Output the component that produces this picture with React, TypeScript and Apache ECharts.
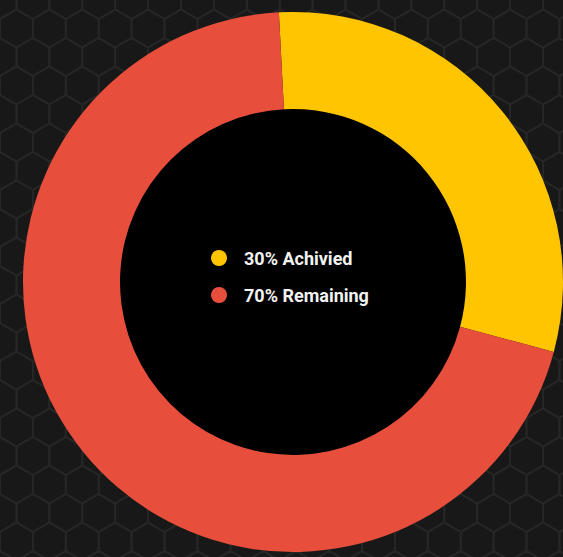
import React, { useEffect, useRef } from "react";
import * as echarts from "echarts";

const categories = ["30% Achivied", "70% Remaining"];
const values = [30, 70];
const colors = ["#FFC500", "#E84E3C"];

function hexGrid(w: number, h: number, r: number) {
  const els: any[] = [];
  const hw = Math.sqrt(3) * r;
  const vh = 1.5 * r;
  for (let row = -1; row * vh < h + r; row++) {
    for (let col = -1; col * hw < w + hw; col++) {
      const cx = col * hw + (row % 2 ? hw / 2 : 0);
      const cy = row * vh;
      const pts: number[][] = [];
      for (let k = 0; k < 6; k++) {
        const a = (Math.PI / 3) * k + Math.PI / 6;
        pts.push([cx + r * Math.cos(a), cy + r * Math.sin(a)]);
      }
      els.push({
        type: "polygon",
        silent: true,
        z: -10,
        shape: { points: pts },
        style: { fill: "none", stroke: "#262626", lineWidth: 2 },
      });
    }
  }
  return els;
}

export default function App() {
  const ref = useRef<HTMLDivElement>(null);
  useEffect(() => {
    const chart = echarts.init(ref.current!, null, { renderer: "svg" });
    chart.setOption({
      animation: false,
      backgroundColor: "#181818",
      graphic: hexGrid(563, 557, 19),
      legend: {
        orient: "vertical",
        left: 206,
        top: 243,
        icon: "circle",
        itemWidth: 16,
        itemHeight: 16,
        itemGap: 17,
        selectedMode: false,
        textStyle: {
          color: "#f2f2f2",
          fontFamily: "Roboto",
          fontWeight: "bold",
          fontSize: 18,
          lineHeight: 20,
          padding: [0, 0, 0, 12],
        },
        data: categories,
      },
      series: [
        {
          type: "pie",
          silent: true,
          radius: [0, 173],
          center: [293, 282],
          label: { show: false },
          labelLine: { show: false },
          itemStyle: { color: "#000000" },
          data: [{ name: "hole", value: 1 }],
          z: 1,
        },
        {
          type: "pie",
          radius: [173, 270],
          center: [293, 282],
          startAngle: 93,
          label: { show: false },
          labelLine: { show: false },
          itemStyle: { borderWidth: 0 },
          data: categories.map((c, i) => ({
            name: c,
            value: values[i],
            itemStyle: { color: colors[i] },
          })),
          z: 2,
        },
      ],
    });
    return () => chart.dispose();
  }, []);
  return (
    <div
      ref={ref}
      style={{ position: "fixed", left: 0, top: 0, width: 563, height: 557 }}
    />
  );
}
